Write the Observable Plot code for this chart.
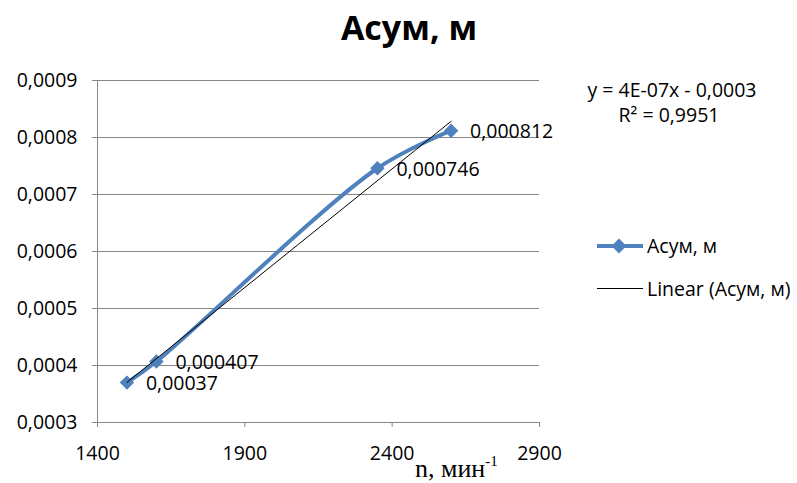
<!DOCTYPE html>
<html>
<head>
<meta charset="utf-8">
<script src="https://cdn.jsdelivr.net/npm/d3@7"></script>
<script src="https://cdn.jsdelivr.net/npm/@observablehq/plot@0.6"></script>
<style>
  html, body { margin: 0; padding: 0; background: #fff; }
  #wrap { position: relative; width: 797px; height: 483px; background: #fff; overflow: hidden; font-family: "Open Sans", sans-serif; color: #000; }
  #wrap svg.plot { position: absolute; left: 0; top: 0; }
  .abs { position: absolute; white-space: nowrap; }
  #title { left: 0; width: 818px; top: 10px; text-align: center; font-weight: bold; font-size: 34px; line-height: 34px; }
  .t19 { font-size: 19.5px; line-height: 19px; }
  #xlabel { font-family: "Liberation Serif", "Times New Roman", serif; font-size: 26px; line-height: 26px; left: 415px; top: 456px; }
  #xlabel sup { font-size: 15px; vertical-align: 0; position: relative; top: -11px; }
</style>
</head>
<body>
<div id="wrap">
  <div id="title" class="abs">Асум, м</div>
  <div class="abs t19" style="left:0;width:1344px;text-align:center;top:80px;">y = 4E-07x - 0,0003</div>
  <div class="abs t19" style="left:0;width:1338px;text-align:center;top:105px;">R² = 0,9951</div>
  <div class="abs t19" style="left:597px;top:236px;">
    <svg width="46" height="20" style="vertical-align:top;position:relative;top:-1px">
      <line x1="0" y1="11" x2="46" y2="11" stroke="#4F81BD" stroke-width="4"/>
      <path d="M22,3.5 L29.5,11 L22,18.5 L14.5,11 Z" fill="#4F81BD"/>
    </svg><span style="margin-left:4px">Асум, м</span>
  </div>
  <div class="abs t19" style="left:597px;top:279px;">
    <svg width="46" height="20" style="vertical-align:top;position:relative;top:-1px">
      <line x1="0" y1="10.5" x2="46" y2="10.5" stroke="#000" stroke-width="1"/>
    </svg><span style="margin-left:4px">Linear (Асум, м)</span>
  </div>
  <div id="xlabel" class="abs">n, мин<sup>-1</sup></div>
</div>
<script>
const nValues = [1500, 1600, 2350, 2600];
const asymValues = [0.00037, 0.000407, 0.000746, 0.000812];
const xTicks = [1400, 1900, 2400, 2900];
const yTicks = [0.0003, 0.0004, 0.0005, 0.0006, 0.0007, 0.0008, 0.0009];

const data = nValues.map((n, i) => ({n, a: asymValues[i]}));
const comma = v => String(v).replace(".", ",");
const gray = "#868686";
const blue = "#4F81BD";

const chart = Plot.plot({
  width: 797,
  height: 483,
  marginTop: 80,
  marginLeft: 97,
  marginRight: 258,
  marginBottom: 61,
  style: {fontFamily: "Open Sans, sans-serif", fontSize: "19px", background: "transparent", color: "#000"},
  x: {domain: [1400, 2900]},
  y: {domain: [0.0003, 0.0009]},
  marks: [
    Plot.ruleY(yTicks, {stroke: gray, strokeWidth: 1}),
    Plot.ruleX([1400], {stroke: gray, strokeWidth: 1}),
    Plot.axisY({ticks: yTicks, tickFormat: d => d.toFixed(4).replace(".", ","), tickSize: 5, tickPadding: 15, stroke: gray, fill: "#000", fontSize: 19.5, label: null}),
    Plot.axisX({ticks: xTicks, tickFormat: d => String(d), tickSize: 5, tickPadding: 19, stroke: gray, fill: "#000", fontSize: 19.5, label: null}),
    Plot.line(data, {x: "n", y: "a", stroke: blue, strokeWidth: 4, curve: "catmull-rom"}),
    Plot.dot(data, {x: "n", y: "a", symbol: "diamond2", r: 6.5, fill: blue, stroke: "none"}),
    Plot.linearRegressionY(data, {x: "n", y: "a", stroke: "#000", strokeWidth: 1, ci: 0}),
    Plot.text(data, {x: "n", y: "a", text: d => comma(d.a), textAnchor: "start", dx: 19, dy: 1, fontSize: 19.5, fill: "#000"})
  ]
});
chart.classList.add("plot");
document.getElementById("wrap").prepend(chart);
</script>
</body>
</html>
